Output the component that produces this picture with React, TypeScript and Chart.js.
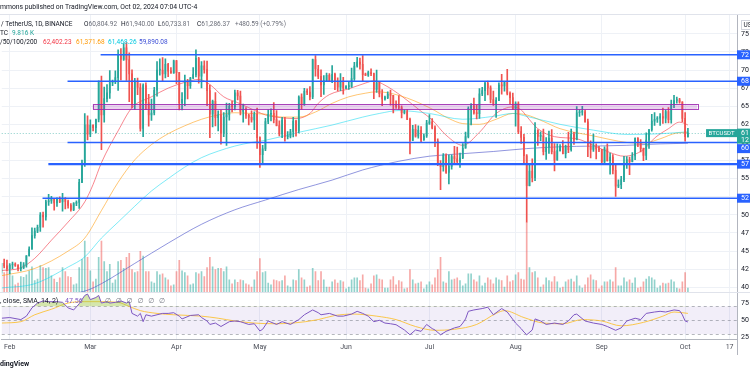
import React, { useEffect, useRef } from 'react';
import { Chart, registerables } from 'chart.js';

Chart.register(...registerables);

const FONT = 'Roboto, "Noto Sans", "DejaVu Sans", sans-serif';

// ---- time axis (days since 2024-02-01) ----
const X_MIN = -2.87;
const X_MAX = 261.66;
const monthTickDays = [0, 29, 60, 90, 121, 151, 182, 213, 243, 259];
const monthTickLabels = ['Feb', 'Mar', 'Apr', 'May', 'Jun', 'Jul', 'Aug', 'Sep', 'Oct', '17'];

// ---- price / rsi / volume axes ----
const PRICE_MIN = 39351;
const PRICE_MAX = 77595;
const RSI_MIN = 22.9;
const RSI_MAX = 91.0;
const VOL_MIN = -115;
const VOL_MAX = 679;
const priceTicks = [40000, 42500, 45000, 47500, 50000, 52500, 55000, 57500, 60000, 62500, 65000, 67500, 70000, 72500, 75000];
const rsiTicks = [25, 50, 75];

// ---- daily candles [open, high, low, close] in thousands USDT ----
const monthStarts = [-3, 0, 29, 60, 90, 121, 151, 182, 213, 243];
const ohlcJan = [[42.03,43.32,41.80,43.30],[43.30,43.88,42.68,42.95],[42.95,43.75,42.30,42.58]];
const ohlcFeb = [[42.58,43.28,41.88,43.08],[43.08,43.49,42.58,43.20],[43.20,43.38,42.89,43.01],[43.01,43.12,42.26,42.58],[42.58,43.49,42.26,42.70],[42.70,43.40,42.57,43.09],[43.09,44.37,42.79,44.34],[44.34,45.60,44.33,45.29],[45.29,48.20,45.24,47.13],[47.13,48.17,46.80,47.75],[47.75,48.59,47.54,48.29],[48.29,50.33,47.70,49.96],[49.96,50.37,48.30,49.70],[49.70,52.04,49.26,51.80],[51.80,52.82,51.32,51.94],[51.94,52.57,51.58,52.14],[52.14,52.20,50.65,51.65],[51.65,52.36,51.16,52.14],[52.14,52.49,51.68,51.78],[51.78,52.98,50.52,52.26],[52.26,52.37,50.83,51.85],[51.85,52.03,50.93,51.30],[51.30,51.55,50.52,50.73],[50.73,51.70,50.58,51.57],[51.57,51.95,51.28,51.73],[51.73,54.91,50.90,54.48],[54.48,57.55,54.45,57.04],[57.04,64.00,56.69,62.43],[62.43,63.68,60.36,61.13]];
const ohlcMar = [[61.13,63.11,60.78,62.39],[62.39,62.43,61.60,62.03],[62.03,63.23,61.32,63.17],[63.17,68.50,62.82,68.25],[68.25,69.17,59.00,63.79],[63.79,67.64,62.79,66.06],[66.06,67.98,65.59,66.85],[66.85,69.93,66.08,68.27],[68.27,68.62,67.83,68.35],[68.35,69.90,68.10,68.94],[68.94,72.80,67.19,72.12],[72.12,72.97,68.62,71.46],[71.46,73.65,71.33,73.07],[73.07,73.78,68.56,71.40],[71.40,72.36,65.63,69.47],[69.47,70.04,64.78,65.32],[65.32,68.85,64.55,68.39],[68.39,68.90,66.59,67.59],[67.59,68.12,61.56,61.94],[61.94,68.10,60.78,67.84],[67.84,68.24,64.53,65.50],[65.50,66.65,62.26,63.80],[63.80,65.97,63.03,64.07],[64.07,67.62,63.79,67.21],[67.21,71.15,66.39,69.99],[69.99,71.56,69.28,69.99],[69.99,71.73,68.38,69.45],[69.45,71.55,68.90,70.78],[70.78,70.91,69.08,69.85],[69.85,70.33,69.55,69.58],[69.58,71.36,69.56,71.28]];
const ohlcApr = [[71.28,71.34,68.11,69.65],[69.65,69.67,64.49,65.46],[65.46,66.90,64.49,65.96],[65.96,69.29,65.06,68.51],[68.51,68.73,66.01,67.84],[67.84,69.00,67.45,68.90],[68.90,70.33,68.81,69.36],[69.36,72.80,69.04,71.62],[71.62,71.76,68.20,69.14],[69.14,71.17,67.52,70.59],[70.59,71.26,69.57,70.06],[70.06,71.23,65.09,67.15],[67.15,67.93,60.66,63.92],[63.92,65.84,62.13,65.66],[65.66,66.87,62.27,63.42],[63.42,64.36,61.60,63.81],[63.81,64.47,59.77,61.27],[61.27,64.12,60.81,63.51],[63.51,65.45,59.60,63.84],[63.84,65.39,63.09,64.99],[64.99,65.67,64.23,64.94],[64.94,67.23,64.50,66.84],[66.84,67.21,65.87,66.41],[66.41,67.08,63.80,64.29],[64.29,65.30,62.79,64.50],[64.50,64.80,63.30,63.77],[63.77,63.92,62.41,63.46],[63.46,64.36,62.81,63.12],[63.12,64.23,61.77,63.87],[63.87,64.73,59.19,60.67]];
const ohlcMay = [[60.67,60.78,56.55,58.32],[58.32,59.60,56.94,59.12],[59.12,63.32,58.85,62.89],[62.89,64.49,62.59,63.89],[63.89,64.63,62.97,64.03],[64.03,65.50,62.70,63.16],[63.16,64.39,62.27,62.33],[62.33,62.99,60.89,61.19],[61.19,63.45,60.65,63.07],[63.07,63.47,60.19,60.79],[60.79,61.49,60.49,60.82],[60.82,61.82,60.63,61.48],[61.48,63.45,60.75,62.94],[62.94,63.10,60.88,61.58],[61.58,66.44,61.33,66.27],[66.27,66.70,64.60,65.23],[65.23,67.47,65.12,67.05],[67.05,67.39,66.60,66.94],[66.94,67.70,65.86,66.28],[66.28,71.50,66.06,71.45],[71.45,71.98,69.16,70.14],[70.14,70.63,68.80,69.12],[69.12,70.04,66.31,67.93],[67.93,69.22,66.62,68.53],[68.53,69.57,68.53,69.28],[69.28,69.51,68.38,68.50],[68.50,70.61,68.24,69.39],[69.39,69.57,67.28,68.36],[68.36,68.91,67.12,67.63],[67.63,69.50,67.14,68.35],[68.35,69.00,66.67,67.49]];
const ohlcJun = [[67.49,67.86,67.44,67.70],[67.70,68.45,67.32,67.75],[67.75,70.28,67.61,68.80],[68.80,71.06,68.56,70.55],[70.55,71.76,70.38,71.08],[71.08,71.63,70.12,70.79],[70.79,71.99,68.50,69.35],[69.35,69.56,69.21,69.30],[69.30,69.85,69.13,69.65],[69.65,70.15,69.23,69.51],[69.51,69.56,66.05,67.32],[67.32,69.99,66.90,68.24],[68.24,68.45,66.30,66.75],[66.75,67.29,65.06,66.01],[66.01,66.40,65.85,66.19],[66.19,66.99,66.05,66.64],[66.64,67.24,65.14,66.49],[66.49,66.50,64.06,65.14],[65.14,65.73,64.69,64.96],[64.96,66.48,64.52,64.83],[64.83,65.07,63.38,64.10],[64.10,64.50,63.94,64.25],[64.25,64.52,63.15,63.18],[63.18,63.37,58.40,60.28],[60.28,62.37,60.25,61.80],[61.80,62.48,60.72,60.86],[60.86,62.29,60.60,61.67],[61.67,62.20,60.01,60.32],[60.32,61.18,60.30,60.89],[60.89,63.06,60.68,62.67]];
const ohlcJul = [[62.67,63.86,62.50,62.85],[62.85,63.29,61.85,62.02],[62.02,62.29,59.42,60.20],[60.20,60.50,56.78,57.04],[57.04,57.50,53.49,56.66],[56.66,58.47,56.02,58.23],[58.23,58.44,55.72,55.85],[55.85,58.24,54.26,56.70],[56.70,58.30,56.30,58.05],[58.05,59.47,57.16,57.72],[57.72,59.36,57.05,57.34],[57.34,58.53,56.55,57.89],[57.89,59.85,57.75,59.20],[59.20,61.42,59.20,60.80],[60.80,64.90,60.63,64.72],[64.72,65.38,62.43,65.04],[65.04,66.13,63.90,64.09],[64.09,65.11,63.24,63.97],[63.97,67.44,63.30,66.71],[66.71,67.60,66.45,67.15],[67.15,68.37,65.75,68.17],[68.17,68.48,66.57,67.54],[67.54,67.80,65.44,65.93],[65.93,67.10,65.10,65.37],[65.37,66.18,63.46,65.80],[65.80,68.24,65.76,67.91],[67.91,69.40,66.66,67.81],[67.81,68.32,67.07,68.25],[68.25,70.08,66.55,66.78],[66.78,66.98,65.32,66.19],[66.19,66.83,64.53,64.62]];
const ohlcAug = [[64.62,65.59,62.25,65.35],[65.35,65.60,61.20,61.50],[61.50,62.20,59.85,60.70],[60.70,61.12,57.12,58.16],[58.16,58.31,49.00,54.02],[54.02,57.04,53.99,56.04],[56.04,57.73,54.56,55.13],[55.13,62.75,54.73,61.69],[61.69,61.75,59.59,60.84],[60.84,61.47,60.26,60.90],[60.90,61.86,58.29,58.71],[58.71,60.68,57.65,59.35],[59.35,61.58,58.48,60.61],[60.61,61.79,58.43,58.74],[58.74,59.85,56.08,57.56],[57.56,59.82,57.56,58.87],[58.87,59.69,58.78,59.48],[59.48,60.26,58.42,58.44],[58.44,59.62,57.86,59.49],[59.49,61.40,58.60,59.01],[59.01,61.84,58.78,61.16],[61.16,61.40,59.72,60.38],[60.38,64.96,60.35,64.10],[64.10,64.52,63.59,64.18],[64.18,65.00,63.76,64.22],[64.22,64.48,62.80,62.83],[62.83,63.21,58.03,59.42],[59.42,60.23,57.86,59.03],[59.03,61.17,58.75,59.38],[59.38,59.82,57.74,59.12],[59.12,59.46,58.74,58.97]];
const ohlcSep = [[58.97,59.06,57.20,57.30],[57.30,59.40,57.12,59.13],[59.13,59.81,57.41,57.48],[57.48,58.52,55.61,57.97],[57.97,58.33,55.67,56.16],[56.16,56.99,52.55,53.96],[53.96,54.85,53.74,54.16],[54.16,55.31,53.63,54.87],[54.87,58.09,54.59,57.05],[57.05,58.04,56.41,57.65],[57.65,57.99,55.55,57.34],[57.34,58.59,57.32,58.13],[58.13,60.65,57.63,60.57],[60.57,60.66,59.43,60.00],[60.00,60.38,58.70,59.13],[59.13,59.21,57.49,58.21],[58.21,61.32,57.61,60.31],[60.31,61.79,59.17,61.76],[61.76,63.87,61.57,62.95],[62.95,64.13,62.35,63.20],[63.20,63.56,62.76,63.35],[63.35,64.00,62.36,63.58],[63.58,64.75,62.61,63.34],[63.34,64.48,62.70,64.26],[64.26,64.82,62.69,63.14],[63.14,65.84,62.67,65.18],[65.18,66.50,64.81,65.79],[65.79,66.26,65.42,65.88],[65.88,66.08,65.42,65.60],[65.60,65.62,62.86,63.33]];
const ohlcOct = [[63.33,64.13,60.16,60.80],[60.805,61.94,60.734,61.286]];

// ---- daily volume, thousands BTC ----
const volJan = [45,48,52];
const volFeb = [47,40,18,22,38,36,42,52,62,28,32,65,60,58,60,40,32,24,35,60,50,38,36,18,20,60,80,125,85];
const volMar = [52,25,32,85,125,75,50,68,22,30,75,78,58,85,95,55,48,50,100,88,50,50,25,22,50,42,45,35,30,15,18];
const volApr = [50,78,52,48,40,18,20,48,45,50,38,60,85,62,55,58,58,50,62,30,20,30,24,30,28,20,18,12,30,50];
const volMay = [82,48,50,22,18,30,28,26,28,40,15,12,30,28,55,35,30,12,15,58,50,28,50,30,12,12,25,30,22,28,25];
const volJun = [8,12,30,35,35,28,42,10,8,20,40,42,32,30,10,10,30,38,18,28,25,8,10,55,30,20,22,25,8,18];
const volJul = [25,18,35,55,85,25,22,50,30,32,35,28,15,20,45,45,30,25,40,15,22,35,30,20,35,30,28,12,40,25,28];
const volAug = [42,48,32,30,170,60,48,50,35,12,18,35,28,25,38,25,10,12,25,30,32,25,40,15,10,18,35,42,30,28,8];
const volSep = [15,25,25,30,25,60,15,15,35,25,30,22,35,10,12,25,32,38,35,30,10,15,22,20,22,30,25,10,8,25];
const volOct = [48,10];

// ---- moving averages: [day, value in thousands] ----
const ema20 = [[-3,42.3],[4,42.7],[9,44.0],[15,46.5],[21,49.0],[27,51.8],[30,54.2],[33,57.2],[39,61.6],[44,64.8],[51,66.3],[57,67.5],[63,68.3],[68,68.7],[72,68.0],[77,66.3],[82,65.5],[86,64.8],[92,63.8],[98,63.4],[103,63.3],[108,64.0],[111,65.4],[115,66.6],[122,67.4],[128,68.2],[131,68.5],[135,67.9],[141,66.4],[148,64.3],[152,63.1],[157,61.0],[163,59.6],[169,61.4],[175,64.0],[181,64.9],[184,64.5],[186,63.6],[190,61.9],[196,60.8],[204,60.5],[210,59.6],[216,58.6],[221,58.1],[228,59.0],[232,60.6],[237,61.9],[241,62.8],[243,62.6],[244,62.4]];
const ema50 = [[-3,41.6],[9,42.6],[21,45.0],[27,46.8],[33,50.6],[39,54.5],[45,57.6],[51,59.7],[57,61.2],[63,62.3],[69,63.2],[75,63.8],[81,64.1],[87,64.0],[92,63.9],[98,63.5],[104,63.5],[110,64.2],[116,65.4],[122,66.3],[128,66.8],[132,67.0],[140,66.5],[151,64.8],[158,63.3],[163,62.6],[169,62.5],[175,63.2],[181,64.0],[186,63.8],[192,62.9],[198,61.9],[210,60.9],[222,60.0],[228,59.9],[234,60.5],[240,61.3],[244,61.37]];
const ema100 = [[-3,39.9],[9,40.5],[21,42.8],[27,44.2],[33,46.8],[39,49.0],[45,51.2],[51,53.3],[57,55.0],[63,56.6],[69,57.9],[75,58.8],[81,59.5],[87,60.0],[92,60.3],[104,61.4],[116,62.4],[127,63.5],[133,64.0],[140,64.4],[151,64.0],[163,63.2],[174,63.6],[181,64.0],[186,63.6],[198,62.5],[210,61.7],[222,61.1],[234,61.2],[244,61.47]];
const ema200 = [[-3,37.3],[10,38.2],[20,38.9],[28,39.6],[33,40.5],[45,43.3],[57,46.1],[69,48.7],[81,50.7],[92,52.05],[104,53.5],[116,54.8],[127,56.2],[140,57.4],[151,58.1],[163,58.45],[174,58.75],[186,59.15],[198,59.4],[210,59.5],[222,59.6],[234,59.8],[244,59.89]];

// ---- RSI 14 and its SMA: [day, value] ----
const rsi = [[-3,53],[0,54],[4,51],[6,56],[8,68],[10,75],[12,78],[14,77],[17,77],[19,76],[21,68],[23,65],[25,74],[27,86],[28,88],[29,80],[31,83],[32,86],[33,75],[35,77],[36,75],[38,76],[40,78],[42,75],[43,77],[44,60],[46,56],[47,60],[48,48],[49,58],[51,56],[53,58],[55,60],[57,60],[59,61],[61,56],[62,52],[65,57],[68,58],[69,54],[71,49],[72,44],[74,46],[76,41],[79,48],[81,49],[83,48],[86,44],[88,45],[90,34.5],[91,37],[93,49],[96,44],[98,48],[101,44],[104,51],[106,58],[109,65],[111,61],[112,58],[115,60],[118,56],[120,56],[123,59],[125,63],[127,60],[129,56],[131,48],[133,50],[135,46],[137,45],[139,43.6],[142,36],[144,29],[146,36],[148,34],[150,44],[152,38],[153,36],[155,29],[157,34],[160,39],[162,41],[163,46],[164,52],[165,63],[167,65],[170,67],[172,69],[174,58],[177,67],[179,62],[182,46],[184,38],[185,33],[186,29],[188,36],[189,52],[191,49],[193,44],[196,46],[199,44],[201,49],[203,58],[204,59],[207,49],[210,46],[213,44],[215,41],[218,35.5],[220,39],[222,49],[225,53],[227,51],[229,60],[232,62],[234,63],[236,62],[239,65],[241,64],[242,58],[243,49],[244,47.56]];
const rsiSignal = [[-3,46],[4,48],[9,58],[15,66],[21,75],[27,77],[33,77],[39,76],[43,70],[47,64],[53,60],[59,58],[69,56],[75,53],[81,49],[88,46],[95,45],[102,46],[111,51],[117,57],[124,59],[132,56],[139,51],[146,41],[153,35.5],[160,37],[168,44],[175,60],[178,64],[185,54],[192,46],[199,45],[206,51],[213,49],[220,42],[228,47],[235,56],[239,62],[244,60]];

// ---- drawings ----
const levelPrices = [72100, 68450, 60000, 57000, 52300];
const levelStartDays = [32.7, 20.8, 20.8, 13.9, 11.8];
const zoneLow = 64575;
const zoneHigh = 65300;
const zoneStartDay = 29.8;
const zoneEndDay = 247.3;

// ---- texts ----
const headerTitle = 'mmons published on TradingView.com, Oct 02, 2024 07:04 UTC-4';
const symbolText = '/ TetherUS, 1D, BINANCE';
const ohlcLetters = ['O', 'H', 'L', 'C'];
const ohlcValues = ['60,804.92', '61,940.00', '60,733.81', '61,286.37'];
const changeText = '+480.59 (+0.79%)';
const volLabel = 'TC';
const volValue = '9.816 K';
const maLabel = '/50/100/200';
const maValues = ['62,402.23', '61,371.68', '61,468.26', '59,890.08'];
const rsiLabel = ', close, SMA, 14, 2)';
const rsiValue = '47.56';
const naMarks = ['∅', '∅', '∅', '∅', '∅', '∅'];
const watermark = 'dingView';
const countdownText = '12';
const symbolTag = 'BTCUSDT';
const currencyTag = 'US';

// ---- styles (not data) ----
const UP = '#26a69a';
const DOWN = '#ef5350';
const LEVEL_COLOR = '#2962ff';
const levelWidths = [1.6, 1.6, 1.6, 2.4, 1.6];
const maColors = ['rgba(242,54,69,0.6)', 'rgba(255,152,0,0.55)', 'rgba(0,215,240,0.5)', 'rgba(72,80,200,0.6)'];
const maLegendColors = ['#f23645', '#ff9800', '#00c8e0', '#3d4fd6'];

const monthOhlc = [ohlcJan, ohlcFeb, ohlcMar, ohlcApr, ohlcMay, ohlcJun, ohlcJul, ohlcAug, ohlcSep, ohlcOct];
const monthVol = [volJan, volFeb, volMar, volApr, volMay, volJun, volJul, volAug, volSep, volOct];

function buildCandles() {
  const out: any[] = [];
  monthOhlc.forEach((arr, mi) => {
    arr.forEach((q, i) => {
      out.push({ d: monthStarts[mi] + i, o: q[0] * 1000, h: q[1] * 1000, l: q[2] * 1000, c: q[3] * 1000, v: monthVol[mi][i] });
    });
  });
  return out;
}

function makeConfig(): any {
  const candles = buildCandles();
  const lastClose = candles[candles.length - 1].c;
  const toK = (arr: number[][]) => arr.map(([d, v]) => ({ x: d, y: v * 1000 }));
  const toXY = (arr: number[][]) => arr.map(([d, v]) => ({ x: d, y: v }));
  const colorOf = (k: any) => (k.c >= k.o ? UP : DOWN);
  const volColorOf = (k: any) => (k.c >= k.o ? 'rgba(38,166,154,0.5)' : 'rgba(239,83,80,0.5)');

  const datasets: any[] = [
    {
      type: 'bar', label: 'volume', yAxisID: 'vol', order: 20,
      data: candles.map((k) => ({ x: k.d, y: k.v })),
      backgroundColor: candles.map(volColorOf),
      barThickness: 1, maxBarThickness: 2, grouped: false,
    },
  ];
  [ema20, ema50, ema100, ema200].forEach((arr, i) => {
    datasets.push({
      type: 'line', label: 'ema' + i, yAxisID: 'y', order: 15 - i,
      data: toK(arr), borderColor: maColors[i], borderWidth: 1, pointRadius: 0,
      cubicInterpolationMode: 'monotone', fill: false,
    });
  });
  datasets.push({
    type: 'bar', label: 'wicks', yAxisID: 'y', order: 6,
    data: candles.map((k) => ({ x: k.d, y: [k.l, k.h] })),
    backgroundColor: candles.map(colorOf),
    barThickness: 1, maxBarThickness: 1, grouped: false,
  });
  datasets.push({
    type: 'bar', label: 'bodies', yAxisID: 'y', order: 5,
    data: candles.map((k) => ({ x: k.d, y: [k.o, k.c] })),
    backgroundColor: candles.map(colorOf),
    barThickness: 1, maxBarThickness: 2.2, grouped: false, minBarLength: 1,
  });
  levelPrices.forEach((p, i) => {
    datasets.push({
      type: 'line', label: 'level' + i, yAxisID: 'y', order: 1,
      data: [{ x: levelStartDays[i], y: p }, { x: X_MAX, y: p }],
      borderColor: LEVEL_COLOR, borderWidth: levelWidths[i], pointRadius: 0, fill: false,
    });
  });
  datasets.push({
    type: 'line', label: 'rsi', yAxisID: 'rsi', order: 3,
    data: toXY(rsi), borderColor: '#7e57c2', borderWidth: 1, pointRadius: 0, tension: 0,
    fill: { target: { value: 70 }, above: 'rgba(160,200,70,0.45)', below: 'rgba(0,0,0,0)' },
  });
  datasets.push({
    type: 'line', label: 'rsiSignal', yAxisID: 'rsi', order: 4,
    data: toXY(rsiSignal), borderColor: 'rgba(251,192,45,0.85)', borderWidth: 1, pointRadius: 0,
    cubicInterpolationMode: 'monotone', fill: false,
  });

  const gridColor = '#eef1f6';
  const tickFont = { family: FONT, size: 7 };

  const panePlugin = {
    id: 'tvPanes',
    beforeDatasetsDraw(chart: any) {
      const { ctx, chartArea: a, scales } = chart;
      const r = scales.rsi;
      const price = scales.y;
      ctx.save();
      const y70 = r.getPixelForValue(70);
      const y50 = r.getPixelForValue(50);
      const y30 = r.getPixelForValue(30);
      ctx.fillStyle = 'rgba(126,87,194,0.1)';
      ctx.fillRect(a.left, y70, a.right - a.left, y30 - y70);
      ctx.strokeStyle = 'rgba(120,123,134,0.55)';
      ctx.lineWidth = 1;
      ctx.setLineDash([3, 3]);
      [y70, y50, y30].forEach((y) => {
        ctx.beginPath();
        ctx.moveTo(a.left, Math.round(y) + 0.5);
        ctx.lineTo(a.right, Math.round(y) + 0.5);
        ctx.stroke();
      });
      const yp = Math.round(price.getPixelForValue(lastClose)) + 0.5;
      ctx.setLineDash([1, 2]);
      ctx.strokeStyle = 'rgba(38,166,154,0.55)';
      ctx.beginPath();
      ctx.moveTo(a.left, yp);
      ctx.lineTo(a.right, yp);
      ctx.stroke();
      ctx.setLineDash([]);
      ctx.strokeStyle = '#e0e3eb';
      ctx.beginPath();
      ctx.moveTo(0, Math.round(price.bottom) + 0.5);
      ctx.lineTo(chart.width, Math.round(price.bottom) + 0.5);
      ctx.stroke();
      ctx.restore();
    },
    beforeDatasetDraw(chart: any, args: any) {
      const id = args.meta.yAxisID;
      const pane = id === 'rsi' ? chart.scales.rsi : chart.scales.y;
      const { ctx, chartArea: a } = chart;
      ctx.save();
      ctx.beginPath();
      ctx.rect(a.left, pane.top, a.right - a.left, pane.bottom - pane.top);
      ctx.clip();
    },
    afterDatasetDraw(chart: any) {
      chart.ctx.restore();
    },
    afterDatasetsDraw(chart: any) {
      const { ctx, scales } = chart;
      const xs = scales.x;
      const price = scales.y;
      const x1 = xs.getPixelForValue(zoneStartDay);
      const x2 = xs.getPixelForValue(zoneEndDay);
      const y1 = price.getPixelForValue(zoneHigh);
      const y2 = price.getPixelForValue(zoneLow);
      ctx.save();
      ctx.fillStyle = 'rgba(156,39,176,0.2)';
      ctx.fillRect(x1, y1, x2 - x1, y2 - y1);
      ctx.strokeStyle = 'rgba(156,39,176,0.85)';
      ctx.lineWidth = 1;
      ctx.strokeRect(Math.round(x1) + 0.5, Math.round(y1) + 0.5, Math.round(x2 - x1), Math.round(y2 - y1));
      ctx.restore();
    },
    afterDraw(chart: any) {
      const { ctx, scales, chartArea: a } = chart;
      const price = scales.y;
      const W = chart.width;
      const axX = price.left;
      ctx.save();
      ctx.textBaseline = 'middle';
      ctx.textAlign = 'left';

      ctx.strokeStyle = '#b2b5be';
      ctx.lineWidth = 1;
      ctx.beginPath();
      ctx.moveTo(Math.round(axX) + 0.5, a.bottom);
      ctx.lineTo(Math.round(axX) + 0.5, a.bottom + 16);
      ctx.stroke();

      ctx.strokeStyle = '#e0e3eb';
      ctx.beginPath();
      ctx.moveTo(0, Math.round(a.top) - 0.5);
      ctx.lineTo(W, Math.round(a.top) - 0.5);
      ctx.stroke();

      ctx.strokeStyle = '#d1d4dc';
      ctx.strokeRect(741.5, 20.5, 12, 9);
      ctx.font = `6.5px ${FONT}`;
      ctx.fillStyle = '#131722';
      ctx.fillText(currencyTag, 743.5, 25.2);

      const yp = price.getPixelForValue(lastClose);
      const pTop = yp - 4.5;
      const pH = 15;
      ctx.fillStyle = UP;
      ctx.fillRect(axX, pTop, W - axX, pH);
      ctx.fillStyle = '#ffffff';
      ctx.font = `7px ${FONT}`;
      ctx.fillText(String(Math.floor(lastClose / 1000)), axX + 4, yp);
      ctx.fillText(countdownText, axX + 4, yp + 7.5);
      ctx.font = `6px ${FONT}`;
      const tw = ctx.measureText(symbolTag).width;
      ctx.fillStyle = UP;
      ctx.fillRect(axX - tw - 5, yp - 4, tw + 5, 8);
      ctx.fillStyle = '#ffffff';
      ctx.fillText(symbolTag, axX - tw - 2.5, yp + 0.3);

      const occupied: number[][] = [[pTop, pTop + pH]];
      ctx.font = `7px ${FONT}`;
      levelPrices.forEach((p) => {
        const y = price.getPixelForValue(p);
        let top = y - 4.5;
        const h = 9;
        occupied.forEach(([t, b]) => {
          if (top < b && top + h > t) top = b + 0.5;
        });
        occupied.push([top, top + h]);
        ctx.fillStyle = LEVEL_COLOR;
        ctx.fillRect(axX, top, W - axX, h);
        ctx.fillStyle = '#ffffff';
        ctx.fillText(String(Math.floor(p / 1000)), axX + 4, top + h / 2);
      });

      ctx.fillStyle = '#131722';
      ctx.font = `6.8px ${FONT}`;
      ctx.fillText(headerTitle, 0, 7);

      ctx.font = `6.5px ${FONT}`;
      ctx.fillStyle = '#131722';
      ctx.fillText(symbolText, 1, 24);
      const ohlcX = [84, 121, 158, 197];
      ohlcLetters.forEach((L, i) => {
        ctx.fillStyle = '#131722';
        ctx.fillText(L, ohlcX[i], 24);
        const lw = ctx.measureText(L).width;
        ctx.fillStyle = '#6a6d78';
        ctx.fillText(ohlcValues[i], ohlcX[i] + lw, 24);
      });
      ctx.fillStyle = '#6a6d78';
      ctx.fillText(changeText, 235, 24);

      ctx.fillStyle = '#131722';
      ctx.fillText(volLabel, 0, 33);
      ctx.fillStyle = UP;
      ctx.fillText(volValue, 12, 33);

      ctx.fillStyle = '#131722';
      ctx.fillText(maLabel, 0, 42);
      const maX = [43, 76, 108, 139];
      maValues.forEach((v, i) => {
        ctx.fillStyle = maLegendColors[i];
        ctx.fillText(v, maX[i], 42);
      });

      const ry = scales.rsi.top + 9;
      ctx.font = `7px ${FONT}`;
      ctx.fillStyle = '#131722';
      ctx.fillText(rsiLabel, 0, ry);
      ctx.fillStyle = '#7e57c2';
      ctx.fillText(rsiValue, 65, ry);
      ctx.fillStyle = '#787b86';
      naMarks.forEach((m, i) => ctx.fillText(m, 105 + i * 10.8, ry));

      ctx.fillStyle = '#131722';
      ctx.font = `bold 7px ${FONT}`;
      ctx.fillText(watermark, 0, 364);
      ctx.restore();
    },
  };

  return {
    type: 'bar',
    data: { datasets },
    plugins: [panePlugin],
    options: {
      animation: false,
      responsive: false,
      maintainAspectRatio: false,
      devicePixelRatio: 1,
      events: [],
      layout: { padding: { top: 15, left: 0, right: 0, bottom: 0 } },
      plugins: { legend: { display: false }, tooltip: { enabled: false } },
      scales: {
        x: {
          type: 'linear', min: X_MIN, max: X_MAX, offset: false, position: 'bottom',
          grid: { color: gridColor, drawTicks: false, offset: false },
          border: { color: '#b2b5be' },
          afterBuildTicks: (s: any) => { s.ticks = monthTickDays.map((v) => ({ value: v })); },
          afterFit: (s: any) => { s.height = 36; },
          ticks: {
            autoSkip: false, maxRotation: 0, minRotation: 0, padding: 4,
            font: tickFont, color: '#4a4d57',
            callback: (_v: any, i: number) => monthTickLabels[i],
          },
        },
        y: {
          type: 'linear', position: 'right', stack: 'panes', stackWeight: 277,
          min: PRICE_MIN, max: PRICE_MAX, beginAtZero: false,
          grid: { color: gridColor, drawTicks: false },
          border: { color: '#b2b5be' },
          afterBuildTicks: (s: any) => { s.ticks = priceTicks.map((v) => ({ value: v })); },
          afterFit: (s: any) => { s.width = 13; },
          ticks: {
            padding: 4, font: tickFont, color: '#131722', autoSkip: false,
            callback: (v: any) => String(Math.floor(Number(v) / 1000)),
          },
        },
        rsi: {
          type: 'linear', position: 'right', stack: 'panes', stackWeight: 47,
          min: RSI_MIN, max: RSI_MAX, beginAtZero: false,
          grid: { display: false, drawTicks: false },
          border: { color: '#b2b5be' },
          afterBuildTicks: (s: any) => { s.ticks = rsiTicks.map((v) => ({ value: v })); },
          afterFit: (s: any) => { s.width = 13; },
          ticks: {
            padding: 4, font: tickFont, color: '#131722', autoSkip: false,
            callback: (v: any) => String(v),
          },
        },
        vol: {
          type: 'linear', position: 'left', display: false,
          min: VOL_MIN, max: VOL_MAX, beginAtZero: false,
          grid: { display: false },
        },
      },
    },
  };
}

export default function App() {
  const ref = useRef<HTMLCanvasElement>(null);
  useEffect(() => {
    document.body.style.margin = '0';
    const canvas = ref.current;
    if (!canvas) return;
    const chart = new Chart(canvas, makeConfig());
    return () => chart.destroy();
  }, []);
  return (
    <div style={{ position: 'absolute', left: 0, top: 0, width: 750, height: 375, background: '#ffffff', overflow: 'hidden' }}>
      <canvas ref={ref} width={750} height={375} style={{ display: 'block', width: 750, height: 375 }} />
    </div>
  );
}
